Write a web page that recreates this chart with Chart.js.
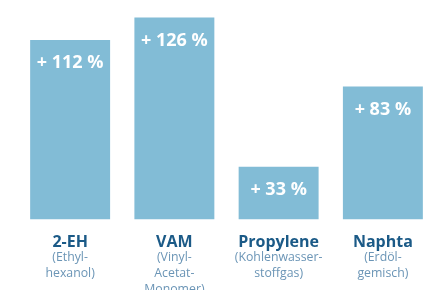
<!DOCTYPE html>
<html>
<head>
<meta charset="utf-8">
<script src="https://cdn.jsdelivr.net/npm/chart.js@4"></script>
<style>
    body { margin: 0; background: #fff; }
    #wrap { width: 443px; height: 290px; }
</style>
</head>
<body>
<div id="wrap"><canvas id="myChart" width="443" height="290"></canvas></div>
<script>
var categories = ['2-EH', 'VAM', 'Propylene', 'Naphta'];
var subLabels = [
    ['(Ethyl-', 'hexanol)'],
    ['(Vinyl-', 'Acetat-', 'Monomer)'],
    ['(Kohlenwasser-', 'stoffgas)'],
    ['(Erdöl-', 'gemisch)']
];
var increase = [112, 126, 33, 83];

// draws the white % inside each bar and the two-style category labels below
var labelPlugin = {
    id: 'labels',
    afterDatasetsDraw: function (chart) {
        var ctx = chart.ctx;
        var meta = chart.getDatasetMeta(0);
        var xScale = chart.scales.x;
        ctx.save();
        ctx.textAlign = 'center';
        ctx.textBaseline = 'alphabetic';
        meta.data.forEach(function (bar, i) {
            ctx.fillStyle = '#ffffff';
            ctx.font = 'bold 18px "Open Sans"';
            ctx.fillText('+ ' + increase[i] + ' %', bar.x, bar.y + 28);
        });
        categories.forEach(function (name, i) {
            var x = xScale.getPixelForValue(i);
            ctx.fillStyle = '#1b5a87';
            ctx.font = 'bold 16px "Open Sans"';
            ctx.fillText(name, x, 247);
            ctx.fillStyle = '#6b95b6';
            ctx.font = '12.3px "Open Sans"';
            subLabels[i].forEach(function (line, j) {
                ctx.fillText(line, x, 261 + j * 16);
            });
        });
        ctx.restore();
    }
};

var ctx = document.getElementById('myChart').getContext('2d');

var myChart = new Chart(ctx, {
    type: 'bar',
    data: {
        labels: categories,
        datasets: [{
            data: increase,
            backgroundColor: '#82bcd6',
            borderWidth: 0,
            categoryPercentage: 1,
            barPercentage: 0.767
        }]
    },
    options: {
        responsive: false,
        animation: false,
        layout: {
            padding: { left: 18, right: 8, top: 0, bottom: 70.5 }
        },
        plugins: {
            legend: { display: false },
            tooltip: { enabled: false }
        },
        scales: {
            x: { display: false },
            y: { display: false, min: 0, max: 137 }
        }
    },
    plugins: [labelPlugin]
});
</script>
</body>
</html>
